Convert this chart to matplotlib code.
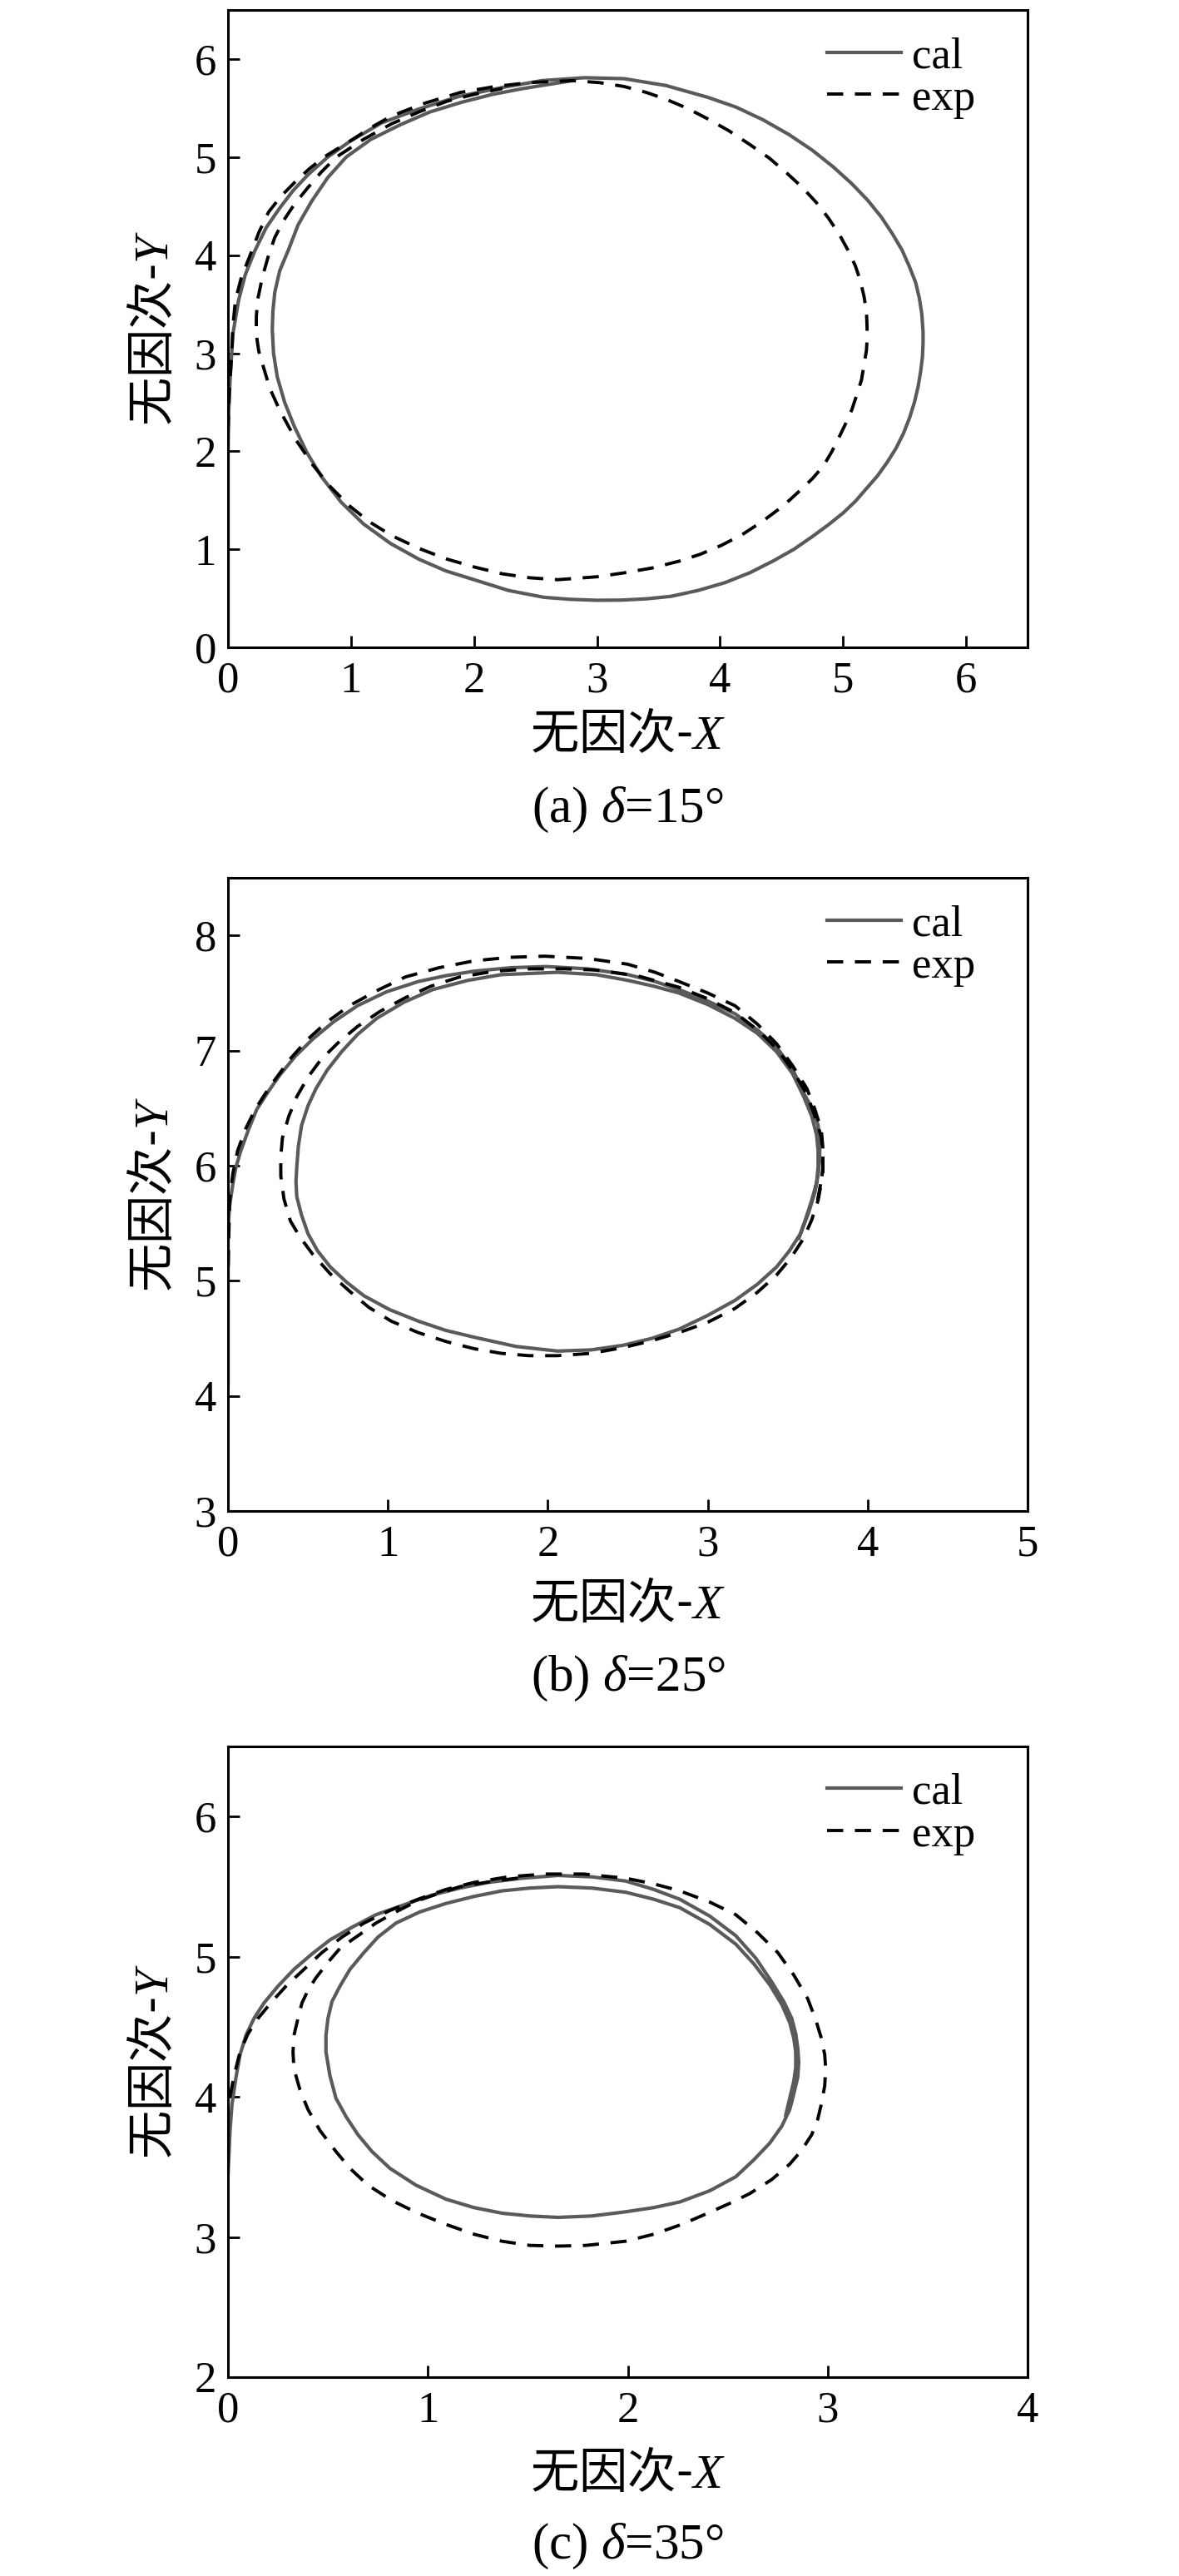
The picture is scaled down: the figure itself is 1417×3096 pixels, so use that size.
import matplotlib
matplotlib.use("Agg")
import matplotlib.pyplot as plt

plt.rcParams["font.family"] = ["Liberation Serif", "Noto Sans CJK SC"]
plt.rcParams["mathtext.fontset"] = "custom"
plt.rcParams["mathtext.it"] = "Liberation Serif:italic"
plt.rcParams["mathtext.rm"] = "Liberation Serif"

# ─── data ────────────────────────────────────────────────────────────────────
# (a) delta = 15
cal_a_x = [0, 0, 0, 0.005, 0.018, 0.04, 0.086, 0.14, 0.22, 0.31, 0.42, 0.53, 0.65, 0.81,
           0.99, 1.25, 1.55, 1.88, 2.23, 2.55, 2.90, 3.22, 3.56, 3.90, 4.13, 4.35, 4.56,
           4.75, 4.92, 5.07, 5.20, 5.31, 5.40, 5.48, 5.54, 5.59, 5.62, 5.64, 5.65, 5.65,
           5.645, 5.63, 5.61, 5.58, 5.54, 5.49, 5.43, 5.36, 5.28, 5.19, 5.10, 5.00, 4.88,
           4.75, 4.60, 4.43, 4.24, 4.04, 3.82, 3.60, 3.40, 3.20, 3.00,
           2.78, 2.57, 2.28, 2.00, 1.77, 1.55, 1.32, 1.10, 0.92, 0.76, 0.64, 0.54, 0.46,
           0.40, 0.37, 0.36, 0.365, 0.38, 0.42, 0.49, 0.57, 0.68, 0.81, 0.96, 1.16, 1.40,
           1.64, 1.90, 2.15, 2.40, 2.80]
cal_a_y = [0, 1.0, 2.0, 2.4, 2.76, 3.2, 3.54, 3.8, 4.05, 4.28, 4.48, 4.66, 4.82, 5.0,
           5.16, 5.35, 5.49, 5.62, 5.71, 5.78, 5.81, 5.80, 5.73, 5.61, 5.51, 5.38, 5.23,
           5.07, 4.90, 4.73, 4.56, 4.39, 4.22, 4.05, 3.88, 3.72, 3.56, 3.40, 3.22, 3.10,
           2.96, 2.81, 2.66, 2.50, 2.34, 2.18, 2.03, 1.89, 1.75, 1.62, 1.49, 1.37, 1.25,
           1.13, 1.00, 0.88, 0.76, 0.66, 0.58, 0.52, 0.495, 0.482, 0.48,
           0.49, 0.51, 0.58, 0.69, 0.78, 0.90, 1.06, 1.26, 1.48, 1.74, 1.99, 2.25, 2.50,
           2.76, 3.0, 3.24, 3.43, 3.62, 3.84, 4.05, 4.31, 4.55, 4.79, 5.0, 5.18, 5.33,
           5.46, 5.56, 5.64, 5.70, 5.78]
exp_a_x = [0, 0, 0, 0.01, 0.03, 0.04, 0.06, 0.11, 0.18, 0.25, 0.33, 0.43, 0.54, 0.66, 0.78,
           1.00, 1.16, 1.33, 1.60, 1.89, 2.17, 2.45, 2.80, 3.02, 3.22, 3.40, 3.56, 3.73,
           3.90, 4.07, 4.24, 4.40, 4.54, 4.67, 4.78, 4.88, 4.97, 5.04, 5.10, 5.14, 5.17,
           5.19, 5.195, 5.195, 5.19, 5.17, 5.15, 5.11, 5.07, 5.02, 4.97, 4.91, 4.84, 4.75,
           4.65, 4.52, 4.35, 4.18, 4.01, 3.84, 3.67, 3.45, 3.22, 3.00, 2.68, 2.45, 2.23,
           2.00, 1.78, 1.55, 1.33,
           1.15, 0.99, 0.83, 0.69, 0.55, 0.42, 0.34, 0.29, 0.25, 0.23, 0.23, 0.24, 0.28,
           0.33, 0.38, 0.45, 0.54, 0.65, 0.76, 0.88, 1.10, 1.33, 1.55, 1.78, 2.00, 2.23]
exp_a_y = [0.78, 1.5, 2.2, 2.6, 3.0, 3.28, 3.54, 3.78, 4.0, 4.23, 4.44, 4.60, 4.74, 4.88, 5.0,
           5.17, 5.30, 5.42, 5.55, 5.66, 5.72, 5.76, 5.78, 5.76, 5.72, 5.66, 5.59, 5.50,
           5.39, 5.27, 5.13, 4.99, 4.84, 4.69, 4.54, 4.38, 4.21, 4.05, 3.89, 3.74, 3.58,
           3.42, 3.26, 3.14, 3.03, 2.88, 2.73, 2.57, 2.42, 2.28, 2.15, 2.00, 1.85, 1.72,
           1.60, 1.45, 1.29, 1.15, 1.04, 0.95, 0.88, 0.81, 0.76, 0.72, 0.69, 0.71, 0.75,
           0.82, 0.90, 1.01, 1.14,
           1.28, 1.44, 1.64, 1.86, 2.12, 2.42, 2.64, 2.85, 3.02, 3.19, 3.37, 3.54, 3.78,
           4.0, 4.18, 4.35, 4.52, 4.69, 4.85, 5.0, 5.18, 5.34, 5.46, 5.57, 5.64, 5.70]

# (b) delta = 25
cal_b_x = [0, 0, 0, 0.01, 0.03, 0.05, 0.08, 0.13, 0.18, 0.25, 0.32, 0.42, 0.53, 0.66, 0.81,
           0.99, 1.19, 1.36, 1.54, 1.77, 1.99, 2.25, 2.50, 2.67, 2.82, 3.00, 3.17, 3.31,
           3.43, 3.53, 3.60, 3.66, 3.69, 3.70, 3.70, 3.69, 3.67, 3.63, 3.58, 3.51, 3.43,
           3.31, 3.17, 3.00, 2.82, 2.65, 2.47, 2.27, 2.06, 1.80, 1.54, 1.36, 1.19, 1.01,
           0.85, 0.74, 0.64, 0.56, 0.50, 0.46, 0.43, 0.425, 0.43, 0.44, 0.46, 0.50, 0.55,
           0.62, 0.71, 0.81, 0.93, 1.10, 1.28, 1.50, 1.71, 2.06, 2.30, 2.50, 2.66, 2.82,
           3.00, 3.17, 3.31, 3.43, 3.53, 3.60, 3.65, 3.68, 3.69, 3.69, 3.68, 3.65, 3.61,
           3.57]
cal_b_y = [4.1, 4.8, 5.45, 5.65, 5.84, 5.99, 6.13, 6.32, 6.49, 6.64, 6.78, 6.95, 7.10, 7.25,
           7.39, 7.51, 7.60, 7.65, 7.69, 7.72, 7.73, 7.71, 7.66, 7.60, 7.53, 7.43, 7.32,
           7.18, 7.03, 6.84, 6.63, 6.48, 6.35, 6.20, 6.06, 5.92, 5.77, 5.59, 5.41, 5.26,
           5.12, 4.97, 4.83, 4.70, 4.58, 4.50, 4.44, 4.40, 4.39, 4.43, 4.51, 4.57, 4.65,
           4.75, 4.87, 4.99, 5.12, 5.26, 5.41, 5.57, 5.73, 5.86, 5.99, 6.17, 6.35, 6.52,
           6.67, 6.83, 6.99, 7.14, 7.28, 7.42, 7.53, 7.61, 7.66, 7.68, 7.66, 7.61, 7.56,
           7.50, 7.40, 7.28, 7.15, 6.99, 6.80, 6.60, 6.43, 6.27, 6.13, 5.99, 5.85, 5.70,
           5.53, 5.37]
exp_b_x = [0, 0, 0.005, 0.01, 0.03, 0.06, 0.11, 0.17, 0.23, 0.29, 0.39, 0.50, 0.62, 0.76,
           0.93, 1.11, 1.32, 1.54, 1.76, 1.98, 2.25, 2.50, 2.67, 2.82, 3.00, 3.17, 3.31,
           3.43, 3.53, 3.62, 3.67, 3.71, 3.72, 3.72, 3.71, 3.69, 3.65, 3.60, 3.52, 3.43,
           3.31, 3.17, 3.00, 2.82, 2.65, 2.47, 2.27, 2.06, 1.88, 1.71, 1.54, 1.37, 1.19,
           1.02, 0.88, 0.76, 0.64, 0.53, 0.45, 0.39, 0.35, 0.33, 0.33, 0.34, 0.38, 0.43,
           0.50, 0.58, 0.69, 0.81, 0.95, 1.11, 1.27, 1.45, 1.67, 1.89, 2.10, 2.30, 2.56,
           2.82, 3.00, 3.17, 3.31, 3.43, 3.53, 3.62, 3.67, 3.71, 3.72, 3.72, 3.70, 3.68]
exp_b_y = [4.4, 5.0, 5.40, 5.70, 5.93, 6.13, 6.32, 6.49, 6.62, 6.74, 6.93, 7.10, 7.25, 7.39,
           7.52, 7.64, 7.72, 7.78, 7.81, 7.82, 7.80, 7.75, 7.68, 7.60, 7.50, 7.39, 7.23,
           7.06, 6.87, 6.67, 6.49, 6.31, 6.15, 5.99, 5.85, 5.70, 5.53, 5.37, 5.20, 5.05,
           4.90, 4.76, 4.64, 4.55, 4.48, 4.42, 4.37, 4.35, 4.35, 4.37, 4.41, 4.47, 4.55,
           4.65, 4.77, 4.91, 5.06, 5.23, 5.38, 5.52, 5.71, 5.91, 6.08, 6.24, 6.43, 6.60,
           6.77, 6.92, 7.07, 7.21, 7.34, 7.46, 7.56, 7.64, 7.69, 7.71, 7.71, 7.70, 7.65,
           7.55, 7.45, 7.33, 7.18, 7.02, 6.83, 6.62, 6.43, 6.25, 6.10, 5.95, 5.80, 5.65]

# (c) delta = 35
cal_c_x = [0, 0.005, 0.01, 0.02, 0.04, 0.06, 0.09, 0.13, 0.18, 0.25, 0.33, 0.42, 0.51, 0.62,
           0.74, 0.88, 1.02, 1.16, 1.30, 1.47, 1.65, 1.82, 1.99, 2.13, 2.26, 2.41, 2.54,
           2.64, 2.72, 2.78, 2.82, 2.84, 2.85, 2.855, 2.85, 2.83, 2.81, 2.77, 2.71, 2.63,
           2.54, 2.41, 2.26, 2.13, 1.99, 1.82, 1.65, 1.51, 1.37, 1.23, 1.09, 0.94, 0.81,
           0.72, 0.65, 0.59, 0.54, 0.51, 0.49, 0.49, 0.50, 0.52, 0.56, 0.61, 0.68, 0.75,
           0.84, 0.96, 1.09, 1.23, 1.37, 1.51, 1.65, 1.82, 1.99, 2.13, 2.26, 2.41, 2.54,
           2.63, 2.71, 2.77, 2.81, 2.83, 2.84, 2.84, 2.83, 2.81, 2.79]
cal_c_y = [3.45, 3.6, 3.76, 3.95, 4.14, 4.30, 4.44, 4.56, 4.67, 4.79, 4.91, 5.02, 5.12, 5.21,
           5.30, 5.37, 5.44, 5.49, 5.53, 5.56, 5.58, 5.57, 5.54, 5.48, 5.41, 5.29, 5.15,
           4.99, 4.82, 4.68, 4.56, 4.45, 4.35, 4.25, 4.14, 4.02, 3.91, 3.79, 3.67, 3.55,
           3.43, 3.33, 3.25, 3.21, 3.18, 3.15, 3.14, 3.15, 3.17, 3.21, 3.27, 3.37, 3.49,
           3.61, 3.73, 3.86, 3.99, 4.15, 4.32, 4.44, 4.56, 4.68, 4.79, 4.91, 5.03, 5.14,
           5.24, 5.32, 5.38, 5.43, 5.47, 5.49, 5.50, 5.49, 5.46, 5.41, 5.35, 5.23, 5.09,
           4.95, 4.80, 4.66, 4.53, 4.42, 4.32, 4.21, 4.11, 3.99, 3.87]
exp_c_x = [0.01, 0.03, 0.06, 0.10, 0.15, 0.22, 0.29, 0.38, 0.47, 0.57, 0.68, 0.81, 0.95,
           1.09, 1.23, 1.40, 1.58, 1.78, 1.99, 2.13, 2.26, 2.41, 2.54, 2.65, 2.75, 2.83,
           2.90, 2.94, 2.97, 2.985, 2.99, 2.985, 2.97, 2.95, 2.92, 2.87, 2.81, 2.72, 2.61,
           2.51, 2.40, 2.27, 2.13, 1.99, 1.79, 1.65, 1.51, 1.37, 1.23, 1.09, 0.95, 0.82,
           0.70, 0.61, 0.54, 0.46, 0.40, 0.36, 0.33, 0.325, 0.33, 0.35, 0.37, 0.40, 0.44,
           0.50, 0.56, 0.65, 0.74, 0.84, 0.95, 1.05, 1.16, 1.33, 1.50]
exp_c_y = [4.0, 4.15, 4.32, 4.45, 4.56, 4.68, 4.79, 4.91, 5.03, 5.14, 5.24, 5.33, 5.41,
           5.48, 5.53, 5.57, 5.59, 5.59, 5.56, 5.52, 5.47, 5.39, 5.30, 5.17, 5.03, 4.87,
           4.70, 4.55, 4.41, 4.30, 4.20, 4.08, 3.96, 3.84, 3.73, 3.62, 3.52, 3.41, 3.31,
           3.24, 3.17, 3.09, 3.02, 2.97, 2.94, 2.935, 2.94, 2.97, 3.02, 3.09, 3.17, 3.26,
           3.37, 3.49, 3.61, 3.76, 3.91, 4.05, 4.20, 4.32, 4.44, 4.56, 4.67, 4.76, 4.85,
           4.96, 5.06, 5.15, 5.24, 5.32, 5.40, 5.45, 5.50, 5.54, 5.57]

captions = ["(a) $\\delta$=15°", "(b) $\\delta$=25°", "(c) $\\delta$=35°"]
xlims = [(0, 6.5), (0, 5), (0, 4)]
ylims = [(0, 6.5), (3, 8.5), (2, 6.5)]
xticks = [range(0, 7), range(0, 6), range(0, 5)]
yticks = [range(0, 7), range(3, 9), range(2, 7)]

panels = [
    (cal_a_x, cal_a_y, exp_a_x, exp_a_y),
    (cal_b_x, cal_b_y, exp_b_x, exp_b_y),
    (cal_c_x, cal_c_y, exp_c_x, exp_c_y),
]

# ─── layout ───────────────────────────────────────────────────────────────────
fig = plt.figure(figsize=(14.17, 30.96), dpi=100)
boxes = [
    [0.1934, 0.7487, 0.6782, 0.2474],
    [0.1934, 0.4134, 0.6782, 0.2458],
    [0.1934, 0.0772, 0.6782, 0.2448],
]
xlab_y = [-0.138, -0.148, -0.154]
cap_y = [-0.255, -0.265, -0.268]

for i, (cx, cy, ex, ey) in enumerate(panels):
    ax = fig.add_axes(boxes[i])
    ax.plot(cx, cy, color="#5a5a5a", lw=3.0, label="cal")
    ax.plot(ex, ey, color="black", lw=2.8, linestyle=(0, (5, 3.6)), label="exp")
    ax.set_xlim(*xlims[i])
    ax.set_ylim(*ylims[i])
    ax.set_xticks(list(xticks[i]))
    ax.set_yticks(list(yticks[i]))
    for s in ax.spines.values():
        s.set_linewidth(2.2)
    ax.tick_params(direction="in", length=10, width=2, labelsize=38)
    ax.tick_params(axis="x", pad=12)
    ax.tick_params(axis="y", pad=10)

    ax.text(0.5, xlab_y[i], "无因次-$X$", transform=ax.transAxes, ha="center", va="center",
            fontsize=42, fontfamily="Noto Sans CJK SC")
    ax.text(-0.092, 0.5, "无因次-$Y$", transform=ax.transAxes, ha="center", va="center",
            rotation=90, fontsize=42, fontfamily="Noto Sans CJK SC")
    ax.text(0.5, cap_y[i], captions[i], transform=ax.transAxes, ha="center", va="center",
            fontsize=44, fontfamily="Liberation Serif")

    ax.legend(loc="upper right", bbox_to_anchor=(0.935, 0.958), frameon=False,
              fontsize=38, handlelength=1.7, handletextpad=0.25, labelspacing=0.05,
              borderpad=0, borderaxespad=0)

fig.savefig("out.png", dpi=100)
